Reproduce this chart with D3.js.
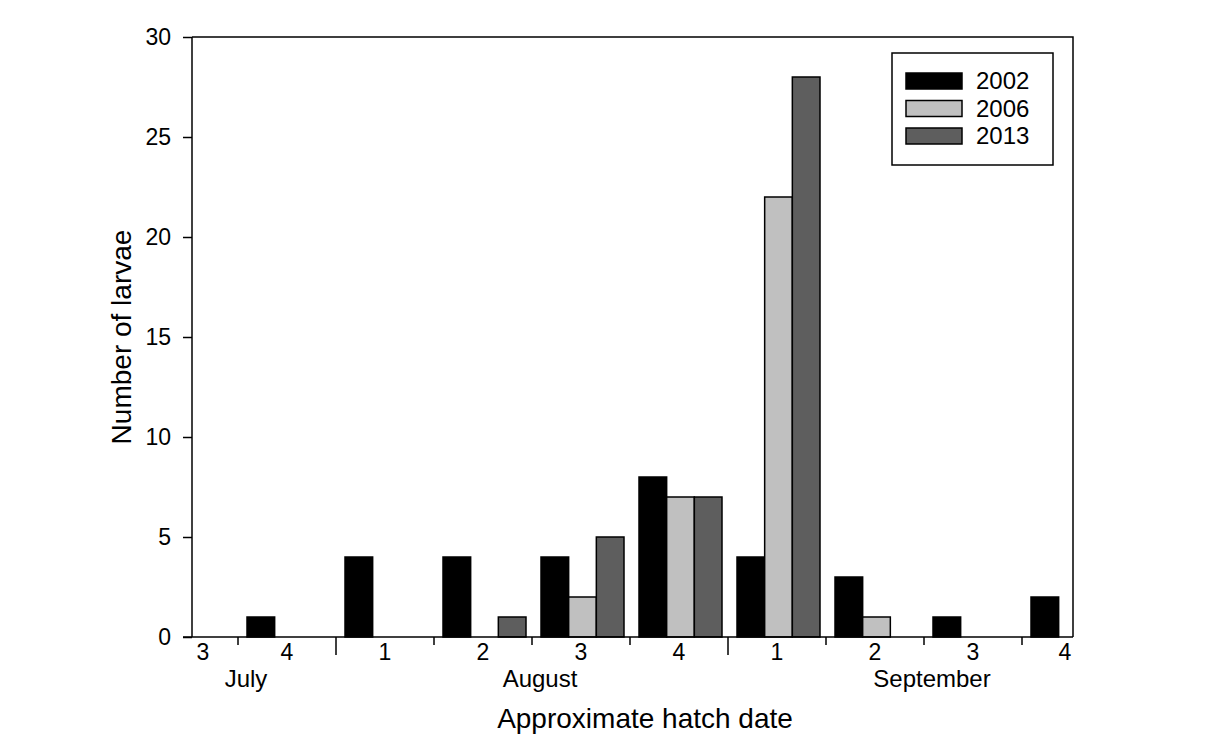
<!DOCTYPE html>
<html>
<head>
<meta charset="utf-8">
<script src="https://cdn.jsdelivr.net/npm/d3@7"></script>
<style>
  body { margin: 0; background: #fff; }
  svg { display: block; font-family: "Liberation Sans", Arial, sans-serif; }
  .axis path, .axis line { stroke: #000; stroke-width: 1.5px; }
  .axis text { font-size: 23px; fill: #000; font-family: "Liberation Sans", Arial, sans-serif; }
</style>
</head>
<body>
<svg width="1220" height="744"></svg>
<script>
// weeks of the hatch period, first and last only partly visible
const weeks = ['Jul-3', 'Jul-4', 'Aug-1', 'Aug-2', 'Aug-3', 'Aug-4', 'Sep-1', 'Sep-2', 'Sep-3', 'Sep-4'];
const weekLabels = ['3', '4', '1', '2', '3', '4', '1', '2', '3', '4'];
const years = ['2002', '2006', '2013'];
const larvae2002 = [0, 1, 4, 4, 4, 8, 4, 3, 1, 2];
const larvae2006 = [0, 0, 0, 0, 2, 7, 22, 1, 0, 0];
const larvae2013 = [0, 0, 0, 1, 5, 7, 28, 0, 0, 0];
const yTicks = [0, 5, 10, 15, 20, 25, 30];
// month name and the week it is written under
const months = ['July', 'August', 'September'];
const monthAnchor = ['Jul-4', 'Aug-3', 'Sep-3'];
const monthStarts = ['Aug-1', 'Sep-1'];

const series = [larvae2002, larvae2006, larvae2013];
const colors = ['#000000', '#c0c0c0', '#5e5e5e'];

const svg = d3.select('svg');

const plotLeft = 192, plotRight = 1073, plotTop = 37, plotBottom = 637;

// band scale runs past the frame so the outer weeks get clipped
const x0 = d3.scaleBand()
    .domain(weeks)
    .range([140, 1120]);

const x1 = d3.scaleBand()
    .domain(years)
    .range([9, 92]);

const y = d3.scaleLinear()
    .domain([0, 30])
    .range([plotBottom, plotTop]);

// bars
const groups = svg.append('g')
    .selectAll('g')
    .data(weeks)
    .enter()
    .append('g')
    .attr('transform', (d) => `translate(${x0(d)},0)`);

groups.selectAll('rect')
    .data((d, i) => years
        .map((yr, j) => ({ year: yr, value: series[j][i], color: colors[j] }))
        .filter((b) => b.value > 0))
    .enter()
    .append('rect')
    .attr('x', (d) => x1(d.year))
    .attr('y', (d) => y(d.value))
    .attr('width', x1.bandwidth())
    .attr('height', (d) => y(0) - y(d.value))
    .attr('fill', (d) => d.color)
    .attr('stroke', '#000')
    .attr('stroke-width', 1.5);

// frame top and right
svg.append('path')
    .attr('d', `M${plotLeft},${plotTop}H${plotRight}V${plotBottom}`)
    .attr('fill', 'none')
    .attr('stroke', '#000')
    .attr('stroke-width', 1.5);

// y axis
svg.append('g')
    .attr('class', 'axis')
    .attr('transform', `translate(${plotLeft},0)`)
    .call(d3.axisLeft(y).tickValues(yTicks).tickSize(9).tickSizeOuter(0).tickPadding(12))
    .select('.domain').remove();

svg.append('line')
    .attr('x1', plotLeft).attr('x2', plotLeft)
    .attr('y1', plotTop).attr('y2', plotBottom)
    .attr('stroke', '#000').attr('stroke-width', 1.5);

// x axis line
svg.append('line')
    .attr('x1', plotLeft - 9).attr('x2', plotRight)
    .attr('y1', plotBottom).attr('y2', plotBottom)
    .attr('stroke', '#000').attr('stroke-width', 1.5);

// week boundary ticks, longer at month starts
const boundaries = weeks.slice(1).filter((w) => x0(w) < plotRight);
svg.append('g')
    .selectAll('line')
    .data(boundaries)
    .enter()
    .append('line')
    .attr('x1', (d) => x0(d)).attr('x2', (d) => x0(d))
    .attr('y1', plotBottom)
    .attr('y2', (d) => plotBottom + (monthStarts.includes(d) ? 18 : 8))
    .attr('stroke', '#000')
    .attr('stroke-width', 1.5);

// week labels, pulled inside the frame for the clipped weeks
svg.append('g')
    .selectAll('text')
    .data(weeks)
    .enter()
    .append('text')
    .attr('x', (d) => Math.max(plotLeft + 11, Math.min(plotRight - 8, x0(d) + x0.bandwidth() / 2)))
    .attr('y', 660)
    .attr('text-anchor', 'middle')
    .attr('font-size', 23)
    .text((d, i) => weekLabels[i]);

// month labels
svg.append('g')
    .selectAll('text')
    .data(months)
    .enter()
    .append('text')
    .attr('x', (d, i) => x0(monthAnchor[i]) + 8)
    .attr('y', 687)
    .attr('text-anchor', 'middle')
    .attr('font-size', 24)
    .text((d) => d);

// axis titles
svg.append('text')
    .attr('x', 645)
    .attr('y', 728)
    .attr('text-anchor', 'middle')
    .attr('font-size', 28)
    .text('Approximate hatch date');

svg.append('text')
    .attr('transform', `translate(131,${(plotTop + plotBottom) / 2}) rotate(-90)`)
    .attr('text-anchor', 'middle')
    .attr('font-size', 28)
    .text('Number of larvae');

// legend
const legend = svg.append('g')
    .attr('transform', 'translate(892,53)');

legend.append('rect')
    .attr('width', 161)
    .attr('height', 112)
    .attr('fill', '#fff')
    .attr('stroke', '#000')
    .attr('stroke-width', 1.5);

const items = legend.selectAll('.item')
    .data(years)
    .enter()
    .append('g')
    .attr('class', 'item')
    .attr('transform', (d, i) => `translate(14,${20 + i * 27.5})`);

items.append('rect')
    .attr('width', 56)
    .attr('height', 16)
    .attr('fill', (d, i) => colors[i])
    .attr('stroke', '#000')
    .attr('stroke-width', 1.5);

items.append('text')
    .attr('x', 70)
    .attr('y', 16)
    .attr('font-size', 24)
    .text((d) => d);
</script>
</body>
</html>
